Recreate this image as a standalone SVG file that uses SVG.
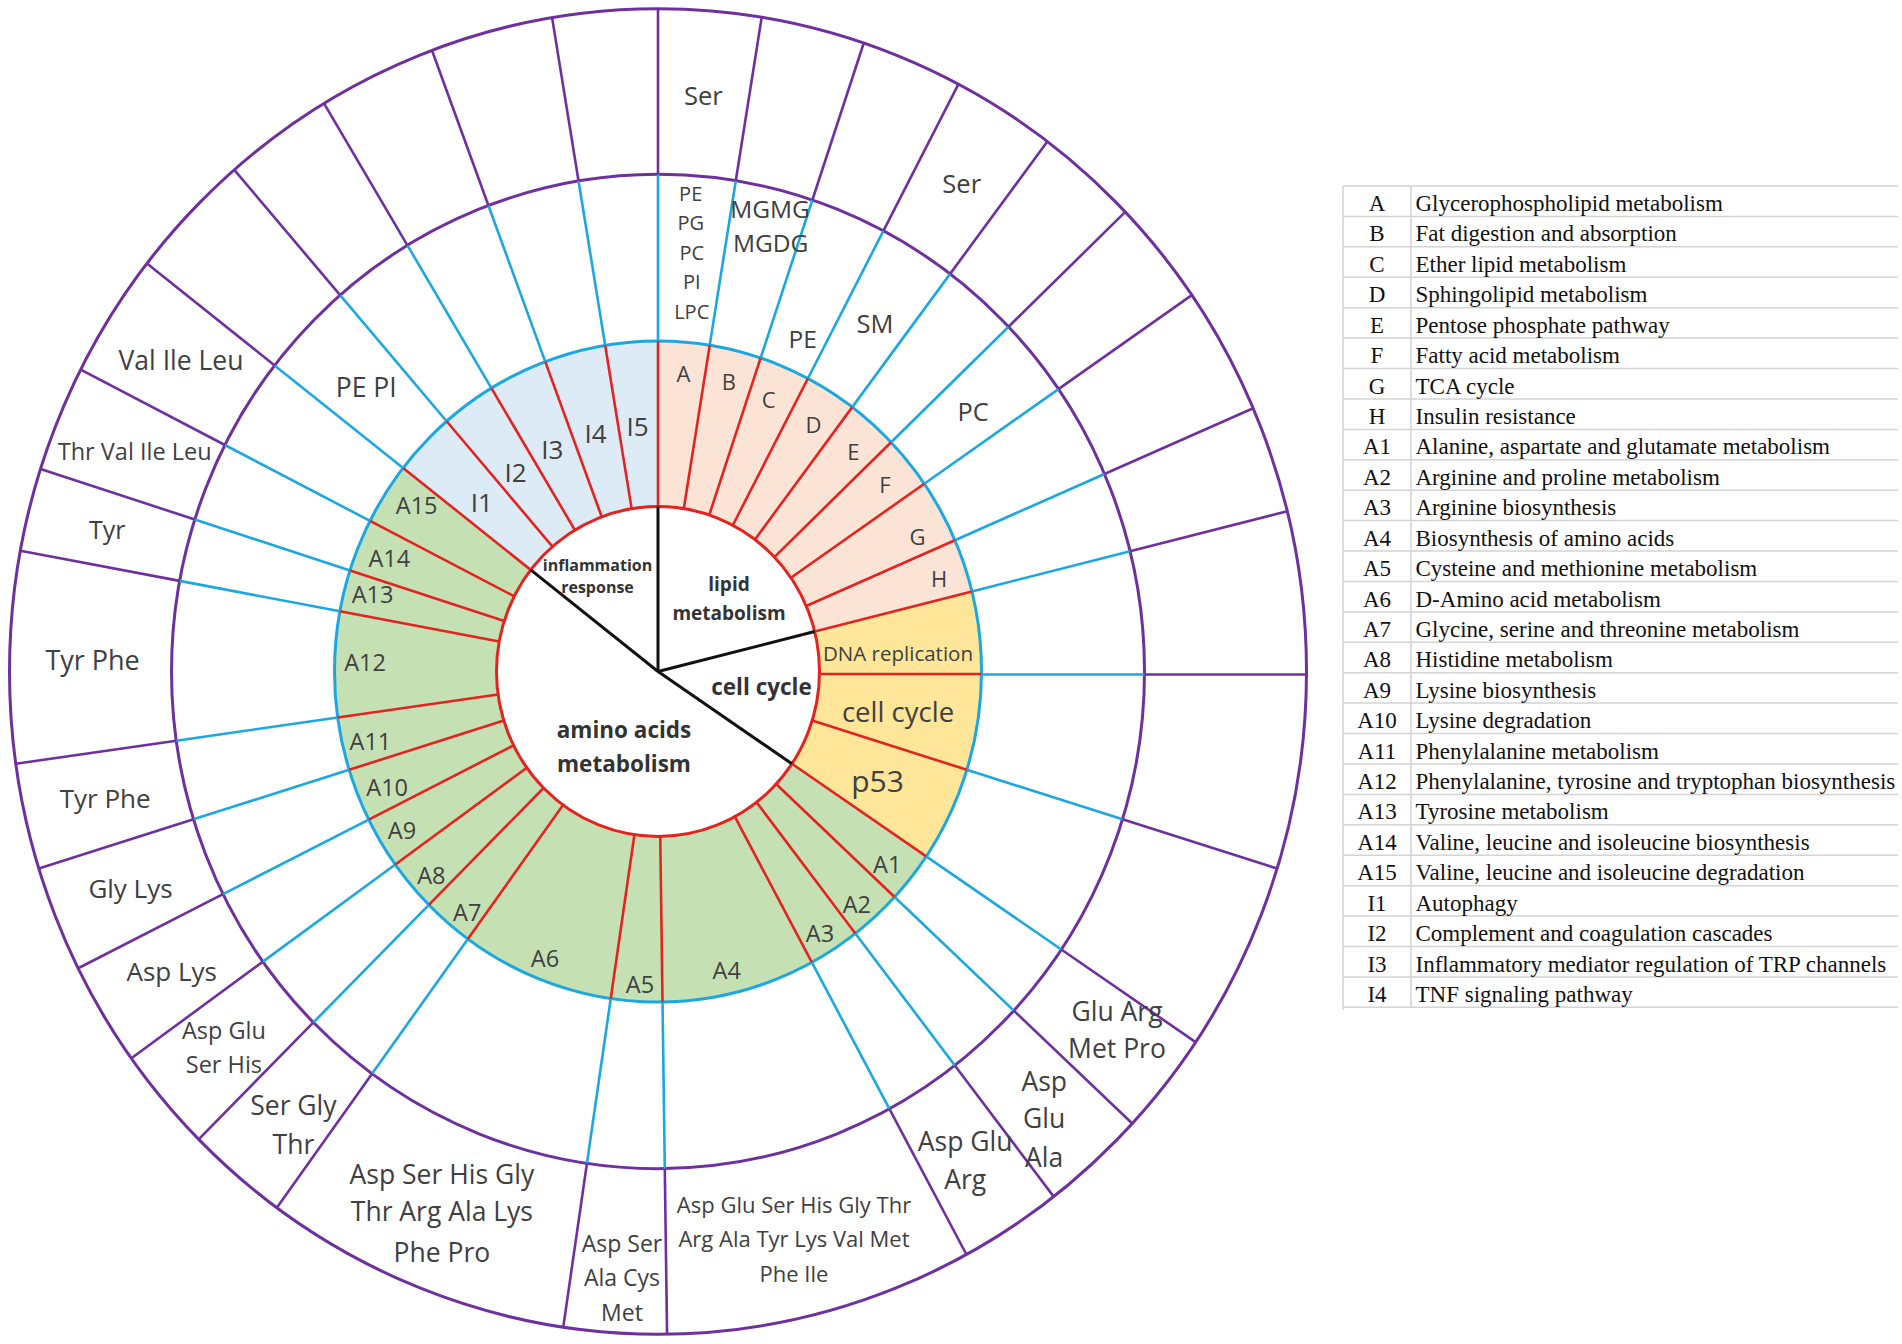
<svg xmlns="http://www.w3.org/2000/svg" width="1902" height="1344" viewBox="0 0 1902 1344">
<style>
.r{stroke:#E42320;stroke-width:2.6;fill:none;vector-effect:non-scaling-stroke}
.b{stroke:#1BA7E1;stroke-width:2.6;fill:none;vector-effect:non-scaling-stroke}
.p{stroke:#6E309E;stroke-width:2.6;fill:none;vector-effect:non-scaling-stroke}
.k{stroke:#111;stroke-width:3;fill:none;vector-effect:non-scaling-stroke}
text{font-family:"Open Sans","DejaVu Sans",sans-serif;fill:#404040;text-anchor:middle}
.c{font-weight:bold;fill:#333}
.o{font-size:26.5px}
.a{font-size:23.5px}
.i{font-size:26px}
.l{font-size:22px}
.lg{font-family:"Liberation Serif","Times New Roman",serif;font-size:23px;fill:#111}
.lc{text-anchor:middle}
.lt{text-anchor:start}
.grid{stroke:#d4d4d4;stroke-width:1.5;fill:none}
</style>
<defs>
<g id="spoke">
<line class="r" x1="0" y1="-161.5" x2="0" y2="-323.5"/>
<line class="b" x1="0" y1="-323.5" x2="0" y2="-486.5"/>
<line class="p" x1="0" y1="-486.5" x2="0" y2="-648.5"/>
</g>
</defs>
<rect width="1902" height="1344" fill="#fff"/>
<g id="wheel" transform="translate(658 671.5) scale(1 1.022)">
<g id="sectors" fill="none" stroke-width="163">
<circle r="242.5" stroke="#FBE4D5" stroke-dasharray="321.67 1202" transform="rotate(-90)"/>
<circle r="242.5" stroke="#FFE699" stroke-dasharray="203.16 1320.5" transform="rotate(-14)"/>
<circle r="242.5" stroke="#C5E0B3" stroke-dasharray="778.76 744.9" transform="rotate(34)"/>
<circle r="242.5" stroke="#DDEBF7" stroke-dasharray="220.1 1303.6" transform="rotate(218)"/>
</g>
<g id="rings">
<circle r="161.5" style="fill:#fff;stroke:#E42320;stroke-width:3;vector-effect:non-scaling-stroke"/>
<circle class="b" r="323.5" style="stroke-width:3"/>
<circle class="p" r="486.5" style="stroke-width:3"/>
<circle class="p" r="648.5" style="stroke-width:3"/>
</g>
<g id="connectors">
<use href="#spoke"/>
<use href="#spoke" transform="rotate(9.2)"/>
<use href="#spoke" transform="rotate(18.5)"/>
<use href="#spoke" transform="rotate(27.6)"/>
<use href="#spoke" transform="rotate(36.9)"/>
<use href="#spoke" transform="rotate(46.1)"/>
<use href="#spoke" transform="rotate(55.4)"/>
<use href="#spoke" transform="rotate(66.6)"/>
<use href="#spoke" transform="rotate(76)"/>
<use href="#spoke" transform="rotate(107.3)"/>
<use href="#spoke" transform="rotate(124)"/>
<use href="#spoke" transform="rotate(133)"/>
<use href="#spoke" transform="rotate(142.4)"/>
<use href="#spoke" transform="rotate(151.6)"/>
<use href="#spoke" transform="rotate(179.2)"/>
<use href="#spoke" transform="rotate(188.4)"/>
<use href="#spoke" transform="rotate(216)"/>
<use href="#spoke" transform="rotate(225.1)"/>
<use href="#spoke" transform="rotate(234.3)"/>
<use href="#spoke" transform="rotate(243.4)"/>
<use href="#spoke" transform="rotate(252.7)"/>
<use href="#spoke" transform="rotate(262)"/>
<use href="#spoke" transform="rotate(280.5)"/>
<use href="#spoke" transform="rotate(287.8)"/>
<use href="#spoke" transform="rotate(297.1)"/>
<use href="#spoke" transform="rotate(308)"/>
<use href="#spoke" transform="rotate(319.2)"/>
<use href="#spoke" transform="rotate(329)"/>
<use href="#spoke" transform="rotate(339.6)"/>
<use href="#spoke" transform="rotate(350.6)"/>
<line class="k" x1="0" y1="0" x2="0" y2="-161.5"/>
<line class="k" x1="0" y1="0" x2="0" y2="-161.5" transform="rotate(76)"/>
<line class="k" x1="0" y1="0" x2="0" y2="-161.5" transform="rotate(124)"/>
<line class="k" x1="0" y1="0" x2="0" y2="-161.5" transform="rotate(308)"/>
</g>
</g>
<g id="horizontal-boundary">
<line class="r" x1="819.5" y1="674" x2="981" y2="674"/>
<line class="b" x1="981" y1="674.5" x2="1144.5" y2="674.5"/>
<line class="p" x1="1144.5" y1="674.5" x2="1306.5" y2="674.5"/>
</g>
<g id="center-labels">
<text class="c" x="597.5" y="570.5" font-size="16">inflammation</text>
<text class="c" x="597.5" y="592.5" font-size="16">response</text>
<text class="c" x="729" y="590.5" font-size="19">lipid</text>
<text class="c" x="729" y="619.5" font-size="19">metabolism</text>
<text class="c" x="761.5" y="695" font-size="22.5">cell cycle</text>
<text class="c" x="624" y="738.3" font-size="22.5">amino acids</text>
<text class="c" x="624" y="771.7" font-size="22.5">metabolism</text>
</g>
<g id="inner-labels">
<text x="898" y="661" font-size="20.5">DNA replication</text>
<text x="898" y="721.5" font-size="27.5">cell cycle</text>
<text x="877.5" y="791.5" font-size="30">p53</text>
<text class="l" x="683.4" y="381.7">A</text>
<text class="l" x="728.9" y="390.4">B</text>
<text class="l" x="768.8" y="407.7">C</text>
<text class="l" x="813.5" y="432.9">D</text>
<text class="l" x="853.4" y="459.8">E</text>
<text class="l" x="885" y="492.7">F</text>
<text class="l" x="917.5" y="544.8">G</text>
<text class="l" x="939.2" y="586.8">H</text>
<text class="i" x="637.6" y="436.3">I5</text>
<text class="i" x="595.5" y="442.9">I4</text>
<text class="i" x="552.2" y="459.3">I3</text>
<text class="i" x="515.6" y="482">I2</text>
<text class="i" x="481.9" y="511.5">I1</text>
<text class="a" x="887.2" y="872.6">A1</text>
<text class="a" x="856.8" y="912.7">A2</text>
<text class="a" x="820" y="942.4">A3</text>
<text class="a" x="726.7" y="979">A4</text>
<text class="a" x="640" y="993.4">A5</text>
<text class="a" x="545" y="967.3">A6</text>
<text class="a" x="467.2" y="921.4">A7</text>
<text class="a" x="431.4" y="884.4">A8</text>
<text class="a" x="402" y="838.6">A9</text>
<text class="a" x="387.2" y="796.2">A10</text>
<text class="a" x="370.4" y="750.4">A11</text>
<text class="a" x="365" y="670.9">A12</text>
<text class="a" x="372.5" y="602.5">A13</text>
<text class="a" x="389.3" y="566.9">A14</text>
<text class="a" x="416.7" y="513.6">A15</text>
</g>
<g id="outer-labels">
<text x="703.3" y="105.2" font-size="25.5">Ser</text>
<text x="690.7" y="200.5" font-size="20">PE</text>
<text x="690.7" y="229.9" font-size="20">PG</text>
<text x="691.7" y="259.5" font-size="20">PC</text>
<text x="691.7" y="288.9" font-size="20">PI</text>
<text x="691.7" y="318.9" font-size="20">LPC</text>
<text x="770" y="218.1" font-size="24.5">MGMG</text>
<text x="770.7" y="251.5" font-size="24.5">MGDG</text>
<text x="802.7" y="348.1" font-size="24.5">PE</text>
<text x="875" y="332.5" font-size="25.5">SM</text>
<text x="961.7" y="193.2" font-size="25.5">Ser</text>
<text x="973" y="421.1" font-size="25.3">PC</text>
<text class="o" x="181" y="369.5">Val Ile Leu</text>
<text class="o" x="366.2" y="396.8">PE PI</text>
<text x="134.7" y="459.5" font-size="23.5">Thr Val Ile Leu</text>
<text x="107.3" y="538.5" font-size="25">Tyr</text>
<text x="92.6" y="669.5" font-size="27">Tyr Phe</text>
<text x="105.2" y="808" font-size="26">Tyr Phe</text>
<text x="130.5" y="898.4" font-size="26">Gly Lys</text>
<text x="171.7" y="981.4" font-size="26">Asp Lys</text>
<text x="223.9" y="1039.4" font-size="23.5">Asp Glu</text>
<text x="223.9" y="1073.4" font-size="23.5">Ser His</text>
<text class="o" x="293.4" y="1115.4">Ser Gly</text>
<text class="o" x="293.4" y="1153.8">Thr</text>
<text class="o" x="441.9" y="1183.5">Asp Ser His Gly</text>
<text class="o" x="441.9" y="1221.4">Thr Arg Ala Lys</text>
<text class="o" x="441.9" y="1262">Phe Pro</text>
<text x="622" y="1252.3" font-size="23">Asp Ser</text>
<text x="622" y="1286.3" font-size="23">Ala Cys</text>
<text x="622" y="1320.8" font-size="23">Met</text>
<text x="794" y="1213.3" font-size="22">Asp Glu Ser His Gly Thr</text>
<text x="794" y="1247.3" font-size="22">Arg Ala Tyr Lys Val Met</text>
<text x="794" y="1282.2" font-size="22">Phe Ile</text>
<text class="o" x="965.2" y="1150.7">Asp Glu</text>
<text class="o" x="965.2" y="1188.7">Arg</text>
<text class="o" x="1044.2" y="1090.5">Asp</text>
<text class="o" x="1044.2" y="1127.6">Glu</text>
<text class="o" x="1044.2" y="1166.9">Ala</text>
<text class="o" x="1117" y="1020.7">Glu Arg</text>
<text class="o" x="1117" y="1057.8">Met Pro</text>
</g>
<g id="legend">
<path class="grid" d="M1343 186H1898M1343 216.4H1898M1343 246.8H1898M1343 277.3H1898M1343 307.7H1898M1343 338.1H1898M1343 368.5H1898M1343 398.9H1898M1343 429.4H1898M1343 459.8H1898M1343 490.2H1898M1343 520.6H1898M1343 551H1898M1343 581.5H1898M1343 611.9H1898M1343 642.3H1898M1343 672.7H1898M1343 703.1H1898M1343 733.6H1898M1343 764H1898M1343 794.4H1898M1343 824.8H1898M1343 855.2H1898M1343 885.7H1898M1343 916.1H1898M1343 946.5H1898M1343 976.9H1898M1343 1007.3H1898M1343 186V1010M1411 186V1007.3"/>
<g class="lg">
<text class="lg lc" x="1377" y="211">A</text><text class="lg lt" x="1415.5" y="211">Glycerophospholipid metabolism</text>
<text class="lg lc" x="1377" y="241.4">B</text><text class="lg lt" x="1415.5" y="241.4">Fat digestion and absorption</text>
<text class="lg lc" x="1377" y="271.8">C</text><text class="lg lt" x="1415.5" y="271.8">Ether lipid metabolism</text>
<text class="lg lc" x="1377" y="302.3">D</text><text class="lg lt" x="1415.5" y="302.3">Sphingolipid metabolism</text>
<text class="lg lc" x="1377" y="332.7">E</text><text class="lg lt" x="1415.5" y="332.7">Pentose phosphate pathway</text>
<text class="lg lc" x="1377" y="363.1">F</text><text class="lg lt" x="1415.5" y="363.1">Fatty acid metabolism</text>
<text class="lg lc" x="1377" y="393.5">G</text><text class="lg lt" x="1415.5" y="393.5">TCA cycle</text>
<text class="lg lc" x="1377" y="423.9">H</text><text class="lg lt" x="1415.5" y="423.9">Insulin resistance</text>
<text class="lg lc" x="1377" y="454.4">A1</text><text class="lg lt" x="1415.5" y="454.4">Alanine, aspartate and glutamate metabolism</text>
<text class="lg lc" x="1377" y="484.8">A2</text><text class="lg lt" x="1415.5" y="484.8">Arginine and proline metabolism</text>
<text class="lg lc" x="1377" y="515.2">A3</text><text class="lg lt" x="1415.5" y="515.2">Arginine biosynthesis</text>
<text class="lg lc" x="1377" y="545.6">A4</text><text class="lg lt" x="1415.5" y="545.6">Biosynthesis of amino acids</text>
<text class="lg lc" x="1377" y="576">A5</text><text class="lg lt" x="1415.5" y="576">Cysteine and methionine metabolism</text>
<text class="lg lc" x="1377" y="606.5">A6</text><text class="lg lt" x="1415.5" y="606.5">D-Amino acid metabolism</text>
<text class="lg lc" x="1377" y="636.9">A7</text><text class="lg lt" x="1415.5" y="636.9">Glycine, serine and threonine metabolism</text>
<text class="lg lc" x="1377" y="667.3">A8</text><text class="lg lt" x="1415.5" y="667.3">Histidine metabolism</text>
<text class="lg lc" x="1377" y="697.7">A9</text><text class="lg lt" x="1415.5" y="697.7">Lysine biosynthesis</text>
<text class="lg lc" x="1377" y="728.1">A10</text><text class="lg lt" x="1415.5" y="728.1">Lysine degradation</text>
<text class="lg lc" x="1377" y="758.6">A11</text><text class="lg lt" x="1415.5" y="758.6">Phenylalanine metabolism</text>
<text class="lg lc" x="1377" y="789">A12</text><text class="lg lt" x="1415.5" y="789">Phenylalanine, tyrosine and tryptophan biosynthesis</text>
<text class="lg lc" x="1377" y="819.4">A13</text><text class="lg lt" x="1415.5" y="819.4">Tyrosine metabolism</text>
<text class="lg lc" x="1377" y="849.8">A14</text><text class="lg lt" x="1415.5" y="849.8">Valine, leucine and isoleucine biosynthesis</text>
<text class="lg lc" x="1377" y="880.2">A15</text><text class="lg lt" x="1415.5" y="880.2">Valine, leucine and isoleucine degradation</text>
<text class="lg lc" x="1377" y="910.7">I1</text><text class="lg lt" x="1415.5" y="910.7">Autophagy</text>
<text class="lg lc" x="1377" y="941.1">I2</text><text class="lg lt" x="1415.5" y="941.1">Complement and coagulation cascades</text>
<text class="lg lc" x="1377" y="971.5">I3</text><text class="lg lt" x="1415.5" y="971.5">Inflammatory mediator regulation of TRP channels</text>
<text class="lg lc" x="1377" y="1001.9">I4</text><text class="lg lt" x="1415.5" y="1001.9">TNF signaling pathway</text>
</g>
</g>
</svg>
